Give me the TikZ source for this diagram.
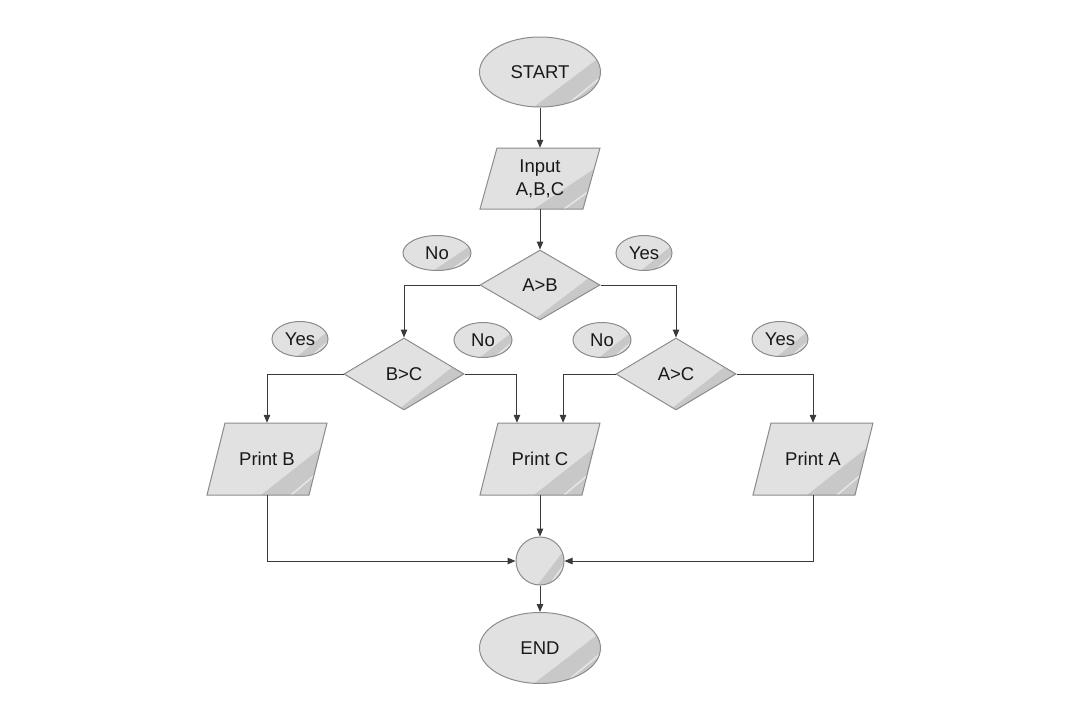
\documentclass[tikz,border=0pt]{standalone}
\usepackage{fontspec}
\setmainfont{Liberation Sans}
\usetikzlibrary{shapes.geometric,arrows.meta,calc}
\definecolor{gfill}{HTML}{E1E1E1}
\definecolor{gdark}{HTML}{C8C8C8}
\definecolor{gborder}{HTML}{8C8C8C}
\definecolor{lineclr}{HTML}{3A3A3A}
\begin{document}
\begin{tikzpicture}[x=1pt,y=-1pt,
  every node/.style={font=\fontsize{18.5}{23}\selectfont, text=black!90, inner sep=0pt},
  glossy/.style={fill=gfill, draw=gborder, line width=1pt, path picture={
      \fill[gdark] ($(path picture bounding box.south west)!0.45!(path picture bounding box.south east)$)
        -- ($(path picture bounding box.south east)!0.72!(path picture bounding box.north east)$)
        -- (path picture bounding box.south east) -- cycle;
      \draw[white, opacity=0.55, line width=1.5pt]
        ($(path picture bounding box.south west)!0.70!(path picture bounding box.south east)$)
        -- ($(path picture bounding box.south east)!0.42!(path picture bounding box.north east)$);
    }},
  term/.style={glossy, ellipse, minimum width=121pt, minimum height=70pt},
  lab/.style={glossy, ellipse, minimum height=35pt},
  dec/.style={glossy, diamond, minimum width=120pt, minimum height=72pt},
  iobox/.style={rectangle, minimum width=102pt, minimum height=72pt, align=center},
  arr/.style={draw=lineclr, line width=1pt, -{Triangle[length=8pt,width=6.5pt]}},
  conn/.style={draw=lineclr, line width=1pt}
]
\useasboundingbox (0,0) rectangle (1080,720);

% terminals
\node[term] (start) at (540,72) {START};

% input parallelogram
\path[glossy] (480,209) -- (583,209) -- (600,148) -- (497,148) -- cycle;
\node[iobox, minimum height=61pt] (inp) at (540,178.5) {Input\\A,B,C};

% decisions
\node[dec, minimum height=70pt] (ab) at (540,285) {A>B};
\node[dec] (bc) at (404,374) {B>C};
\node[dec] (ac) at (676,374) {A>C};

% branch labels
\node[lab, minimum width=68pt] (no1) at (437,253) {No};
\node[lab, minimum width=56pt] (yes1) at (644,253) {Yes};
\node[lab, minimum width=56pt] (yes2) at (300,339) {Yes};
\node[lab, minimum width=58pt] (no2) at (483,340) {No};
\node[lab, minimum width=58pt] (no3) at (602,340) {No};
\node[lab, minimum width=56pt] (yes3) at (780,339) {Yes};

% print parallelograms
\path[glossy] (207,495) -- (309,495) -- (327,423) -- (225,423) -- cycle;
\node[iobox] (pb) at (267,459) {Print B};
\path[glossy] (480,495) -- (582,495) -- (600,423) -- (498,423) -- cycle;
\node[iobox] (pc) at (540,459) {Print C};
\path[glossy] (753,495) -- (855,495) -- (873,423) -- (771,423) -- cycle;
\node[iobox] (pa) at (813,459) {Print A};

% connector circle and end
\node[glossy, circle, minimum size=48pt] (cc) at (540,561) {};
\node[term, minimum height=71pt] (end) at (540,648) {END};

% connectors
\draw[arr] (start) -- (inp);
\draw[arr] (inp) -- (ab);
\draw[arr] (ab.west) -| (bc.north);
\draw[arr] (ab.east) -| (ac.north);
\draw[arr] (bc.west) -| (pb.north);
\draw[arr] (bc.east) -| ($(pc.north)!0.45!(pc.north west)$);
\draw[arr] (ac.west) -| ($(pc.north)!0.45!(pc.north east)$);
\draw[arr] (ac.east) -| (pa.north);
\draw[arr] (pc) -- (cc);
\draw[arr] (pb.south) |- (cc.west);
\draw[arr] (pa.south) |- (cc.east);
\draw[arr] (cc) -- (end);
\end{tikzpicture}
\end{document}
